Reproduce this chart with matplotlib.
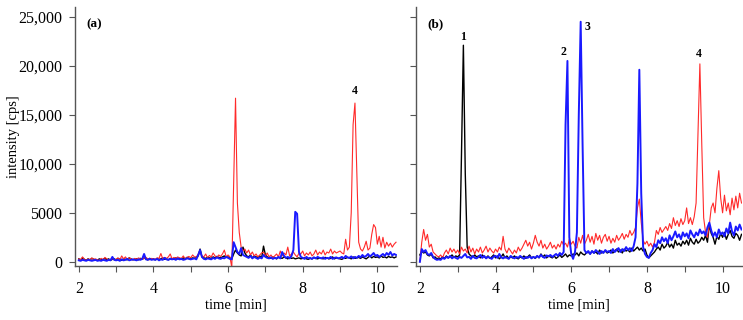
import matplotlib.pyplot as plt
import numpy as np

plt.rcParams['font.family'] = ['Liberation Serif', 'DejaVu Serif']

# detector sampling grid, 2.0 .. 10.5 min every 0.05 min
time_min = np.linspace(2.0, 10.5, 171)

# ---- panel (a) traces [cps] ----
a_black = [
    300, 200, 400, 250, 150, 300, 200, 350, 250, 200,
    150, 300, 200, 250, 350, 200, 300, 150, 250, 300,
    200, 350, 250, 150, 300, 250, 200, 400, 300, 200,
    250, 300, 200, 350, 250, 400, 300, 200, 350, 250,
    300, 200, 350, 250, 300, 400, 250, 300, 200, 350,
    300, 250, 400, 300, 350, 250, 400, 300, 450, 350,
    300, 400, 350, 500, 600, 1300, 500, 400, 350, 450,
    400, 350, 500, 400, 550, 450, 400, 500, 600, 450,
    500, 400, 300, 800, 1200, 900, 700, 600, 1500, 900,
    600, 500, 700, 400, 600, 500, 450, 600, 400, 1600,
    700, 500, 400, 350, 500, 400, 300, 450, 400, 350,
    500, 400, 300, 450, 350, 400, 300, 350, 400, 300,
    350, 400, 300, 250, 350, 300, 450, 350, 300, 400,
    350, 300, 450, 400, 300, 350, 500, 300, 400, 350,
    300, 250, 400, 350, 450, 400, 300, 500, 350, 400,
    450, 350, 500, 400, 300, 450, 600, 400, 550, 450,
    500, 400, 600, 450, 500, 400, 550, 450, 500, 400,
    500]
a_blue = [
    150, 100, 200, 150, 100, 200, 150, 100, 150, 200,
    100, 150, 100, 200, 150, 100, 200, 150, 500, 200,
    150, 200, 100, 250, 150, 200, 300, 150, 200, 250,
    200, 150, 250, 200, 300, 800, 250, 200, 300, 200,
    250, 200, 300, 150, 250, 200, 400, 250, 200, 300,
    250, 300, 200, 350, 250, 300, 200, 250, 350, 300,
    250, 300, 350, 250, 700, 1200, 500, 300, 250, 350,
    300, 250, 400, 300, 450, 350, 300, 400, 350, 500,
    400, 300, 250, 2000, 1500, 1000, 800, 1400, 700, 600,
    500, 400, 600, 350, 500, 400, 300, 450, 350, 700,
    500, 400, 350, 450, 300, 400, 350, 500, 350, 1000,
    600, 400, 500, 350, 600, 1200, 5100, 4900, 1000, 500,
    400, 300, 500, 350, 400, 300, 450, 350, 500, 400,
    350, 450, 300, 400, 350, 500, 300, 400, 450, 350,
    400, 500, 350, 600, 450, 400, 550, 350, 500, 400,
    600, 450, 700, 500, 600, 800, 550, 700, 900, 600,
    700, 500, 650, 800, 600, 900, 700, 1000, 650, 800,
    700]
a_red = [
    300, 200, 500, 250, 150, 300, 200, 400, 250, 300,
    200, 150, 350, 200, 450, 300, 200, 250, 300, 200,
    250, 400, 200, 600, 300, 500, 250, 400, 300, 200,
    350, 250, 400, 300, 250, 350, 450, 300, 200, 350,
    300, 250, 400, 350, 850, 300, 450, 350, 500, 800,
    300, 450, 350, 500, 400, 350, 600, 300, 450, 550,
    400, 700, 500, 450, 800, 1000, 600, 500, 800, 400,
    650, 500, 900, 600, 450, 700, 550, 800, 1200, 500,
    700, 500, -600, 8000, 16700, 6000, 3000, 1500, 1100, 1300,
    900, 1200, 700, 1000, 600, 800, 500, 700, 900, 1000,
    600, 900, 500, 700, 400, 600, 800, 500, 1100, 600,
    900, 700, 1500, 600, 800, 1000, 700, 500, 900, 800,
    1100, 600, 900, 700, 1000, 600, 800, 1200, 700, 1000,
    800, 1200, 700, 1000, 900, 1300, 800, 1100, 900, 1000,
    1100, 900, 800, 2300, 1200, 1500, 5000, 14000, 16200, 9000,
    2000, 1300, 1100, 1500, 2100, 1200, 1400, 2800, 3800, 3500,
    1800, 2600, 1500, 2500, 1400, 2000, 1600, 1900, 1500, 1800,
    2000]

# ---- panel (b) traces [cps] ----
b_black = [
    700, 1100, 900, 1000, 700, 600, 800, 400, 500, 300,
    400, 300, 500, 350, 600, 400, 500, 700, 450, 600,
    500, 700, 11000, 22100, 9000, 1500, 800, 600, 500, 700,
    500, 600, 400, 700, 500, 400, 600, 350, 500, 700,
    400, 600, 300, 500, 800, 400, 600, 350, 500, 400,
    600, 400, 300, 500, 400, 600, 350, 500, 700, 400,
    500, 350, 600, 400, 800, 500, 700, 400, 600, 500,
    400, 600, 350, 500, 700, 450, 600, 800, 500, 700,
    600, 800, 700, 900, 600, 1000, 800, 700, 900, 1000,
    800, 1100, 900, 1000, 800, 1200, 900, 1000, 1100, 900,
    1000, 1200, 900, 1100, 1300, 1000, 1200, 900, 1300, 1100,
    1200, 1000, 1400, 1100, 1300, 1500, 1200, 1400, 1100, 1300,
    700, 400, 600, 800, 1000, 1300, 1500, 1200, 1800, 1400,
    1600, 2000, 1500, 1800, 1400, 2200, 1700, 1900, 1600, 2100,
    1800, 2200, 1700, 2400, 2000, 1800, 2300, 1900, 2100, 2500,
    2200, 2700, 2000, 3800, 2900, 2500, 1800, 2600, 2300, 2900,
    2500, 3000, 2300, 2800, 3200, 2600, 2400, 2900, 2700, 2200,
    2800]
b_blue = [
    0, 1300, 1000, 1200, 800, 700, 900, 500, 300, 200,
    250, 200, 400, 300, 500, 400, 600, 350, 500, 400,
    300, 500, 400, 600, 800, 450, 500, 300, 600, 400,
    350, 500, 700, 400, 600, 350, 500, 400, 300, 550,
    600, 400, 800, 450, 350, 500, 400, 300, 600, 450,
    350, 500, 400, 600, 450, 300, 500, 400, 550, 350,
    500, 400, 600, 450, 700, 500, 400, 650, 550, 700,
    500, 650, 800, 600, 900, 700, 1000, 14000, 20500, 2500,
    800, 300, 1000, 3000, 15000, 24500, 12000, 1200, 900, 1100,
    800, 1100, 900, 1200, 1000, 800, 1100, 900, 1200, 1000,
    1100, 900, 1300, 1000, 1200, 1400, 1000, 1300, 1100, 1500,
    1200, 1400, 1100, 1600, 2500, 8000, 19600, 7000, 1500, 800,
    500, 400, 900, 1200, 1800, 1500, 2200, 1900, 2500, 2100,
    2400, 1900, 2700, 2200, 2600, 3100, 2500, 2800, 2300, 3000,
    2600, 2900, 2400, 3200, 2800, 2500, 3000, 2700, 3300, 2900,
    3100, 2700, 3500, 4000, 3200, 2600, 3000, 2500, 3300, 2800,
    3000, 2600, 3400, 2900, 4000, 3100, 2700, 3600, 3200, 3800,
    3300]
b_red = [
    0, 2000, 3300, 2200, 2800, 1500, 1800, 1000, 800, 600,
    500, 700, 400, 900, 1200, 800, 1400, 1000, 1300, 900,
    1200, 800, 1500, 1100, 1300, 900, 1600, 1000, 1400, 800,
    1300, 1000, 1500, 900, 1200, 1600, 1000, 1400, 1100, 900,
    1300, 1000, 1500, 1200, 2600, 1300, 900, 1400, 1100, 800,
    1200, 900, 1500, 1100, 1400, 1800, 2200, 1600, 2000, 1300,
    1900, 2700, 2000, 1600, 2200, 1400, 1800, 1300, 1600, 2000,
    1400, 1700, 1300, 1800, 1500, 2100, 1700, 1900, 1500, 2300,
    1800, 2100, 1600, 1400, 2500, 1900, 2700, 1800, 2200, 2800,
    2000, 2600, 1800, 2900, 2200, 2700, 1900, 2500, 2800, 2100,
    2600, 1900, 2400, 2000, 2700, 2200, 2500, 2900, 2300, 2800,
    2500, 3200, 2700, 3000, 3500, 5500, 6400, 4000, 2200, 1800,
    2100, 1600, 1900, 1500, 2000, 3200, 2800, 3500, 3000, 3300,
    3600, 3200, 3900, 3400, 4500, 3700, 4200, 3600, 4400, 3800,
    4200, 5500, 3900, 4500, 3800, 4600, 6000, 13000, 20200, 12000,
    4500, 3000, 2500, 3800, 5500, 6000, 5000, 7500, 9300, 6500,
    5000, 6800, 5200, 6000, 4800, 6500, 5300, 6700, 5500, 7000,
    6000]

y_ticks = [0, 5000, 10000, 15000, 20000, 25000]
y_tick_labels = ["0", "5000", "10,000", "15,000", "20,000", "25,000"]

# peak labels: (time, intensity, text)
a_peaks = [(9.4, 16800, "4")]
b_peaks = [(3.13, 22300, "1"), (5.8, 20800, "2"), (6.43, 23400, "3"), (9.36, 20600, "4")]

fig = plt.figure(figsize=(7.43, 3.2), dpi=100)
ax_a = fig.add_axes([0.101, 0.169, 0.433, 0.809])
ax_b = fig.add_axes([0.560, 0.169, 0.439, 0.809])

panels = [
    (ax_a, a_black, a_red, a_blue, a_peaks, "(a)"),
    (ax_b, b_black, b_red, b_blue, b_peaks, "(b)"),
]
for ax, blk, red, blu, peaks, tag in panels:
    ax.plot(time_min, blk, color='black', lw=1.0)
    ax.plot(time_min, red, color='#ff2a2a', lw=0.8)
    ax.plot(time_min, blu, color='#1a1aff', lw=1.4)
    for t, y, s in peaks:
        ax.text(t, y, s, ha='center', va='bottom', fontsize=8.5, fontweight='bold')
    ax.text(0.035, 0.932, tag, transform=ax.transAxes, fontsize=9.5,
            fontweight='bold', va='center')

    ax.set_xlim(1.9, 10.52)
    ax.set_ylim(-420, 26000)
    ax.set_xticks([2, 4, 6, 8, 10])
    ax.set_xticks([3, 5, 7, 9], minor=True)
    ax.set_yticks(y_ticks)
    ax.spines['top'].set_visible(False)
    ax.spines['right'].set_visible(False)
    for sp in ('left', 'bottom'):
        ax.spines[sp].set_color('#555555')
        ax.spines[sp].set_linewidth(1.0)
    ax.tick_params(which='both', direction='out', length=4, width=0.8,
                   color='#555555', labelsize=11.5)
    ax.tick_params(axis='x', pad=7)
    ax.tick_params(axis='y', pad=5)
    ax.set_xlabel("time [min]", fontsize=10.5)
    ax.xaxis.set_label_coords(0.5, -0.124)

ax_a.set_yticklabels(y_tick_labels)
ax_b.set_yticklabels([])
ax_a.set_ylabel("intensity [cps]", fontsize=10.5)
ax_a.yaxis.set_label_coords(-0.172, 0.5)

fig.savefig("out.png", dpi=100)
